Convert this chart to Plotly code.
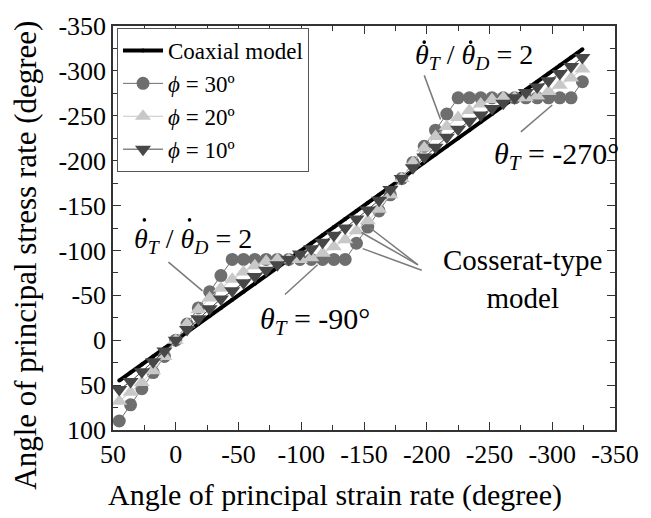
import plotly.graph_objects as go

# ---- data ----
strain = [45, 36, 27, 18, 9, 0, -9, -18, -27, -36, -45, -54, -63, -72, -81, -90,
          -99, -108, -117, -126, -135, -144, -153, -162, -171, -180, -189, -198,
          -207, -216, -225, -234, -243, -252, -261, -270, -279, -288, -297, -306,
          -315, -324]
coaxial = [45, 36, 27, 18, 9, 0, -9, -18, -27, -36, -45, -54, -63, -72, -81, -90,
           -99, -108, -117, -126, -135, -144, -153, -162, -171, -180, -189, -198,
           -207, -216, -225, -234, -243, -252, -261, -270, -279, -288, -297, -306,
           -315, -324]
phi30 = [90, 72, 54, 36, 18, 0, -18, -36, -54, -72, -90, -90, -90, -90, -90, -90,
         -90, -90, -90, -90, -90, -108, -126, -144, -162, -180, -198, -216,
         -234, -252, -270, -270, -270, -270, -270, -270, -270, -270, -270, -270,
         -270, -288]
phi20 = [68, 58, 47, 34, 18, 0, -18, -34, -47, -58, -68, -76, -83, -88, -90, -90,
         -90, -92, -97, -104, -112, -122, -133, -146, -162, -180, -198, -214,
         -227, -238, -248, -256, -263, -268, -270, -270, -270, -272, -277, -284,
         -292, -302]
phi10 = [55, 46, 35, 24, 12, 0, -12, -24, -35, -46, -55, -64, -71, -78, -84, -90,
         -96, -102, -109, -117, -125, -135, -145, -156, -168, -180, -192, -204,
         -215, -226, -235, -244, -251, -258, -264, -270, -276, -282, -289, -297,
         -305, -315]

x_ticks = [50, 0, -50, -100, -150, -200, -250, -300, -350]
x_labels = ["50", "0", "-50", "-100", "-150", "-200", "-250", "-300", "-350"]
y_ticks = [100, 50, 0, -50, -100, -150, -200, -250, -300, -350]
y_labels = ["100", "50", "0", "-50", "-100", "-150", "-200", "-250", "-300", "-350"]

FONT = "Liberation Serif"

fig = go.Figure()
fig.add_trace(go.Scatter(x=strain, y=coaxial, mode="lines+markers",
                         name="Coaxial model",
                         line=dict(color="black", width=4),
                         marker=dict(color="black", size=4)))
fig.add_trace(go.Scatter(x=strain, y=phi30, mode="lines+markers", name="<i>ϕ</i> = 30º",
                         line=dict(color="#6e6e6e", width=1),
                         marker=dict(symbol="circle", color="#6e6e6e", size=13)))
fig.add_trace(go.Scatter(x=strain, y=phi20, mode="lines+markers", name="<i>ϕ</i> = 20º",
                         line=dict(color="#c8c8c8", width=1),
                         marker=dict(symbol="triangle-up", color="#c8c8c8", size=14)))
fig.add_trace(go.Scatter(x=strain, y=phi10, mode="lines+markers", name="<i>ϕ</i> = 10º",
                         line=dict(color="#474747", width=1),
                         marker=dict(symbol="triangle-down", color="#474747", size=14)))

# leader lines (data coordinates)
leaders = [
    (-198, -295, -211, -246),
    (5.8, -87, -21.3, -55),
    (-275, -232, -300, -262),
    (-87, -51, -113, -84),
    (-193, -84, -155, -125),
    (-193, -84, -148, -120),
    (-196, -78, -149, -102),
]
for x0, y0, x1, y1 in leaders:
    fig.add_shape(type="line", xref="x", yref="y", x0=x0, y0=y0, x1=x1, y1=y1,
                  line=dict(color="#7a7a7a", width=1.5))

ratio = "<i>θ</i><sub><i>T</i></sub> / <i>θ</i><sub><i>D</i></sub> = 2"
annots = [
    (-238, -316, ratio, 28),
    (-14, -111, ratio, 28),
    (-303, -205, "<i>θ</i><sub><i>T</i></sub> = -270°", 30),
    (-111, -21, "<i>θ</i><sub><i>T</i></sub> = -90°", 30),
    (-276, -68, "Cosserat-type<br>model", 29),
]
for ax, ay, txt, fs in annots:
    fig.add_annotation(x=ax, y=ay, xref="x", yref="y", text=txt, showarrow=False,
                       font=dict(family=FONT, size=fs, color="black"))

# time-derivative dots over the θ symbols of the two ratio labels
dots = [(-198, -332), (-235, -332), (25, -134), (-11, -134)]
for dx, dy in dots:
    fig.add_shape(type="circle", xref="x", yref="y", xsizemode="pixel",
                  ysizemode="pixel", xanchor=dx, yanchor=dy,
                  x0=-1.8, x1=1.8, y0=-1.8, y1=1.8,
                  fillcolor="black", line=dict(width=0))

# axis titles (placed as in the reference)
fig.add_annotation(x=0.442, y=-0.161, xref="paper", yref="paper", showarrow=False,
                   xanchor="center", yanchor="middle",
                   text="Angle of principal strain rate (degree)",
                   font=dict(family=FONT, size=30, color="black"))
fig.add_annotation(x=-0.176, y=0.433, xref="paper", yref="paper", showarrow=False,
                   xanchor="center", yanchor="middle",
                   textangle=-90, text="Angle of principal stress rate (degree)",
                   font=dict(family=FONT, size=31, color="black"))

axis_common = dict(showgrid=False, zeroline=False, showline=True, linecolor="#333",
                   linewidth=1.5, mirror="ticks", ticks="inside", ticklen=8,
                   tickcolor="#333", tickwidth=1.2, ticklabeloverflow="allow",
                   tickfont=dict(family=FONT, size=26, color="black"),
                   minor=dict(ticks="inside", ticklen=5, tickmode="linear", tick0=0,
                              dtick=25, tickcolor="#333"))

fig.update_layout(
    width=651, height=518,
    margin=dict(l=113, r=22, t=14, b=88),
    paper_bgcolor="white", plot_bgcolor="white",
    font=dict(family=FONT, color="black"),
    showlegend=True,
    legend=dict(x=0.008, y=0.995, xanchor="left", yanchor="top",
                bgcolor="white", bordercolor="#555", borderwidth=1,
                font=dict(family=FONT, size=23, color="black"),
                tracegroupgap=0, itemwidth=40),
    xaxis=dict(range=[50, -350], tickmode="array", tickvals=x_ticks, ticktext=x_labels,
               **axis_common),
    yaxis=dict(range=[100, -350], tickmode="array", tickvals=y_ticks, ticktext=y_labels,
               **axis_common),
)

fig.write_html("out.html")
